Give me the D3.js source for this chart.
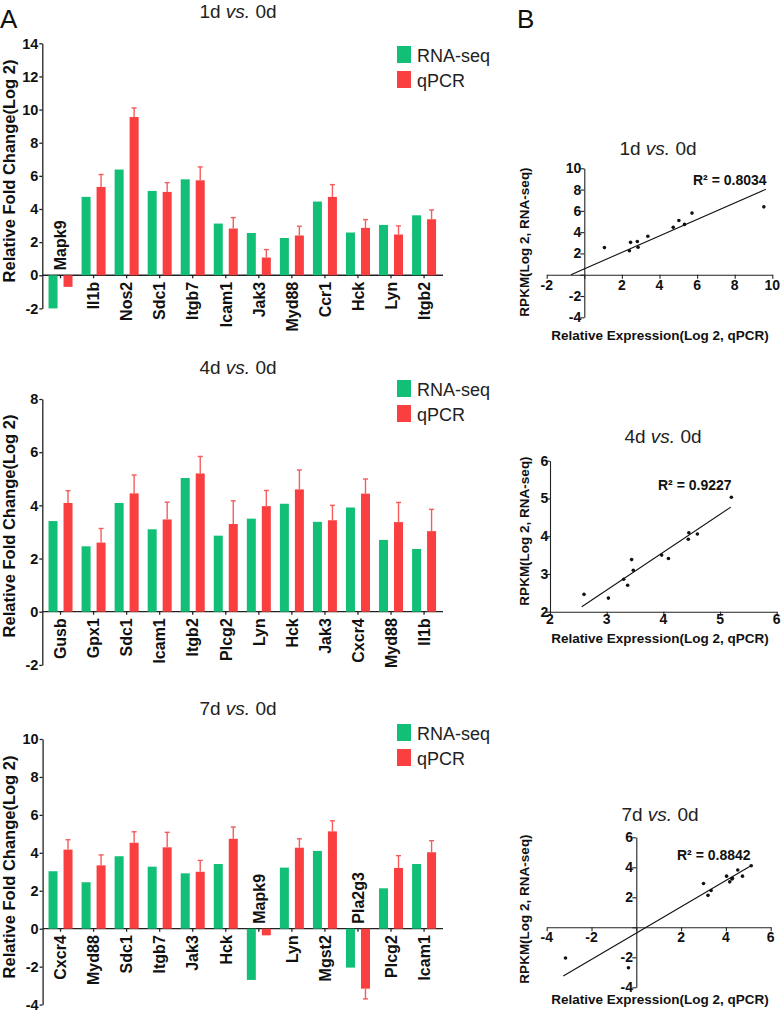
<!DOCTYPE html>
<html><head><meta charset="utf-8">
<script src="https://cdn.jsdelivr.net/npm/d3@7"></script>
<style>
body{margin:0;background:#fff}
svg{display:block}
text{font-family:"Liberation Sans",Arial,Helvetica,sans-serif;fill:#111}
</style>
</head><body>
<svg id="c" width="782" height="1010"></svg>
<script>
// ---------------- DATA ----------------
const seriesNames = ["RNA-seq", "qPCR"];

const p1Title = "1d";
const p1Genes = ["Mapk9","Il1b","Nos2","Sdc1","Itgb7","Icam1","Jak3","Myd88","Ccr1","Hck","Lyn","Itgb2"];
const p1RNA   = [-2.00, 4.73, 6.38, 5.09, 5.79, 3.12, 2.55, 2.25, 4.45, 2.58, 3.04, 3.62];
const p1QPCR  = [-0.70, 5.33, 9.55, 5.03, 5.73, 2.82, 1.07, 2.40, 4.73, 2.86, 2.46, 3.38];
const p1SD    = [0.00, 0.75, 0.55, 0.56, 0.81, 0.66, 0.48, 0.56, 0.74, 0.50, 0.52, 0.56];
const p1YTicks = [-2, 0, 2, 4, 6, 8, 10, 12, 14];

const p2Title = "4d";
const p2Genes = ["Gusb","Gpx1","Sdc1","Icam1","Itgb2","Plcg2","Lyn","Hck","Jak3","Cxcr4","Myd88","Il1b"];
const p2RNA   = [3.41, 2.46, 4.09, 3.10, 5.03, 2.86, 3.50, 4.06, 3.38, 3.92, 2.70, 2.36];
const p2QPCR  = [4.09, 2.60, 4.45, 3.47, 5.20, 3.30, 3.97, 4.60, 3.44, 4.44, 3.37, 3.03];
const p2SD    = [0.46, 0.53, 0.69, 0.65, 0.64, 0.87, 0.59, 0.73, 0.56, 0.55, 0.74, 0.82];
const p2YTicks = [-2, 0, 2, 4, 6, 8];

const p3Title = "7d";
const p3Genes = ["Cxcr4","Myd88","Sdc1","Itgb7","Jak3","Hck","Mapk9","Lyn","Mgst2","Pla2g3","Plcg2","Icam1"];
const p3RNA   = [3.03, 2.45, 3.82, 3.27, 2.92, 3.41, -2.70, 3.22, 4.10, -2.05, 2.13, 3.41];
const p3QPCR  = [4.17, 3.34, 4.53, 4.29, 3.00, 4.74, -0.35, 4.27, 5.13, -3.16, 3.20, 4.03];
const p3SD    = [0.52, 0.55, 0.58, 0.79, 0.60, 0.62, 0.00, 0.47, 0.56, 0.54, 0.65, 0.61];
const p3YTicks = [-4, -2, 0, 2, 4, 6, 8, 10];

// scatter (x = qPCR, y = RNA-seq), genes left out of each scatter
const s1Exclude = ["Mapk9"];
const s2Exclude = [];
const s3Exclude = [];
const s1R2 = "0.8034", s2R2 = "0.9227", s3R2 = "0.8842";
// fitted lines: [slope, intercept, xStart, xEnd]
const s1Fit = [0.774, 0.55, -0.71, 9.66];
const s2Fit = [1.004, -0.44, 2.56, 5.19];
const s3Fit = [0.878, -0.39, -3.26, 5.10];
const s1XTicks = [-2, 0, 2, 4, 6, 8, 10], s1YTicks = [-4, -2, 0, 2, 4, 6, 8, 10];
const s2XTicks = [2, 3, 4, 5, 6],        s2YTicks = [2, 3, 4, 5, 6];
const s3XTicks = [-4, -2, 0, 2, 4, 6],   s3YTicks = [-4, -2, 0, 2, 4, 6];

// ---------------- STYLE ----------------
const GREEN = "#12bf77", RED = "#f93f3f", ERR = "#f75b5b", AX = "#222";
const svg = d3.select("#c");

function title(g, x, y, day, size) {
  const t = g.append("text").attr("x", x).attr("y", y).attr("text-anchor", "middle")
    .style("font-size", size + "px").style("fill", "#222");
  t.append("tspan").text(day + " ");
  t.append("tspan").style("font-style", "italic").text("vs.");
  t.append("tspan").text(" 0d");
}

// ---------------- BAR PANELS ----------------
function barPanel(genes, rna, qpcr, sd, yTicks, day, L) {
  const g = svg.append("g");
  const y = d3.scaleLinear().domain([yTicks[0], yTicks[yTicks.length - 1]]).range(L.yPx);
  const x = d3.scaleBand().domain(genes).range([44, 440.6]);
  const cx = d => x(d) + x.bandwidth() / 2;
  const y0 = y(0);

  // y axis (lines via d3 axis, labels as own text)
  const ya = g.append("g").attr("transform", `translate(${L.axisX},0)`)
    .call(d3.axisLeft(y).tickValues(yTicks).tickSize(3).tickSizeOuter(0).tickFormat(""));
  ya.select(".domain").attr("stroke", AX).attr("stroke-width", 1.3);
  ya.selectAll(".tick line").attr("stroke", AX).attr("stroke-width", 1.3);
  g.selectAll(".ytl").data(yTicks).enter().append("text")
    .attr("x", L.axisX - 4).attr("y", d => y(d)).attr("dy", "0.36em")
    .attr("text-anchor", "end")
    .style("font-size", "14.5px").style("font-weight", "bold")
    .text(d => String(d));

  // x axis
  const xa = g.append("g").attr("transform", `translate(0,${y0})`)
    .call(d3.axisBottom(x).tickSize(3).tickSizeOuter(0).tickFormat(""));
  xa.select(".domain").attr("d", `M${L.axisX},0H443`).attr("stroke", AX).attr("stroke-width", 1.3);
  xa.selectAll(".tick line").attr("stroke", AX).attr("stroke-width", 1.3);

  const data = genes.map((gname, i) => ({ g: gname, r: rna[i], q: qpcr[i], s: sd[i] }));

  // bars
  g.selectAll(".rb").data(data).enter().append("rect")
    .attr("x", d => cx(d.g) - 12).attr("width", 9)
    .attr("y", d => Math.min(y(d.r), y0)).attr("height", d => Math.abs(y(d.r) - y0))
    .attr("fill", GREEN);
  g.selectAll(".qb").data(data).enter().append("rect")
    .attr("x", d => cx(d.g) + 3).attr("width", 9)
    .attr("y", d => Math.min(y(d.q), y0)).attr("height", d => Math.abs(y(d.q) - y0))
    .attr("fill", RED);

  // error bars
  const eb = data.filter(d => d.s > 0);
  const tip = d => d.q >= 0 ? d.q + d.s : d.q - d.s;
  g.selectAll(".ev").data(eb).enter().append("line")
    .attr("x1", d => cx(d.g) + 7.5).attr("x2", d => cx(d.g) + 7.5)
    .attr("y1", d => y(d.q)).attr("y2", d => y(tip(d)))
    .attr("stroke", ERR).attr("stroke-width", 1.4);
  g.selectAll(".ec").data(eb).enter().append("line")
    .attr("x1", d => cx(d.g) + 5).attr("x2", d => cx(d.g) + 10)
    .attr("y1", d => y(tip(d))).attr("y2", d => y(tip(d)))
    .attr("stroke", ERR).attr("stroke-width", 1.4);

  // category labels
  g.selectAll(".lab").data(data).enter().append("text")
    .attr("transform", d => d.r < 0 ? `translate(${cx(d.g)},${y0 - 5}) rotate(-90)` : `translate(${cx(d.g)},${y0 + 6.5}) rotate(-90)`)
    .attr("text-anchor", d => d.r < 0 ? "start" : "end")
    .attr("dy", "0.36em")
    .style("font-size", "16px").style("font-weight", "bold")
    .text(d => d.g);

  // y label
  g.append("text").attr("transform", `translate(9,${L.yLabelY}) rotate(-90)`)
    .attr("text-anchor", "middle").attr("dy", "0.36em")
    .style("font-size", "16.5px").style("font-weight", "bold")
    .text("Relative Fold Change(Log 2)");

  title(g, 238, L.titleY, day, 19);

  // legend
  const lg = g.append("g");
  [GREEN, RED].forEach((c, i) => {
    lg.append("rect").attr("x", 397).attr("y", L.legY + i * 25).attr("width", 14).attr("height", 17).attr("fill", c);
    lg.append("text").attr("x", 417).attr("y", L.legY + 16 + i * 24.5)
      .style("font-size", "18px").style("fill", "#222").text(seriesNames[i]);
  });
}

barPanel(p1Genes, p1RNA, p1QPCR, p1SD, p1YTicks, p1Title,
  { yPx: [308.4, 43.3], axisX: 42.3, titleY: 18, legY: 46, yLabelY: 171 });
barPanel(p2Genes, p2RNA, p2QPCR, p2SD, p2YTicks, p2Title,
  { yPx: [664.9, 399], axisX: 42.3, titleY: 374, legY: 380, yLabelY: 526 });
barPanel(p3Genes, p3RNA, p3QPCR, p3SD, p3YTicks, p3Title,
  { yPx: [1004.6, 739], axisX: 42.6, titleY: 715, legY: 724, yLabelY: 867 });

// ---------------- SCATTER PANELS ----------------
function scatterPanel(genes, rna, qpcr, exclude, xTicks, yTicks, fit, r2, day, L) {
  const g = svg.append("g");
  const x = d3.scaleLinear().domain([xTicks[0], xTicks[xTicks.length - 1]]).range(L.xPx);
  const y = d3.scaleLinear().domain([yTicks[0], yTicks[yTicks.length - 1]]).range(L.yPx);
  const cross = L.cross; // values where axes cross
  const ax0 = x(cross[0]), ay0 = y(cross[1]);

  const xa = g.append("g").attr("transform", `translate(0,${ay0})`)
    .call(d3.axisBottom(x).tickValues(xTicks).tickSize(4).tickSizeOuter(0).tickFormat(""));
  const ya = g.append("g").attr("transform", `translate(${ax0},0)`)
    .call(d3.axisLeft(y).tickValues(yTicks).tickSize(4).tickSizeOuter(0).tickFormat(""));
  [xa, ya].forEach(a => {
    a.select(".domain").attr("stroke", AX).attr("stroke-width", 1.1);
    a.selectAll(".tick line").attr("stroke", AX).attr("stroke-width", 1.1);
  });
  const xl = xTicks.filter(d => !(L.hideCross && d === cross[0]));
  const yl = yTicks.filter(d => !(L.hideCross && d === cross[1]));
  g.selectAll(".xtl").data(xl).enter().append("text")
    .attr("x", d => x(d)).attr("y", ay0 + L.xOff).attr("text-anchor", "middle")
    .style("font-size", "14px").style("font-weight", "bold").text(d => String(d));
  g.selectAll(".ytl").data(yl).enter().append("text")
    .attr("x", ax0 - L.yOff).attr("y", d => y(d)).attr("dy", "0.36em").attr("text-anchor", "end")
    .style("font-size", "14px").style("font-weight", "bold").text(d => String(d));

  const pts = genes.map((gn, i) => ({ g: gn, x: qpcr[i], y: rna[i] })).filter(d => !exclude.includes(d.g));
  g.selectAll(".pt").data(pts).enter().append("circle")
    .attr("cx", d => x(d.x)).attr("cy", d => y(d.y)).attr("r", 1.8).attr("fill", "#111");

  g.append("line")
    .attr("x1", x(fit[2])).attr("y1", y(fit[0] * fit[2] + fit[1]))
    .attr("x2", x(fit[3])).attr("y2", y(fit[0] * fit[3] + fit[1]))
    .attr("stroke", "#111").attr("stroke-width", 1.1);

  g.append("text").attr("x", L.r2[0]).attr("y", L.r2[1])
    .style("font-size", "14px").style("font-weight", "bold")
    .text("R² = " + r2);

  title(g, L.titleX, L.titleY, day, 19);

  g.append("text").attr("x", 660).attr("y", L.xLabY).attr("text-anchor", "middle")
    .style("font-size", "13.5px").style("font-weight", "bold")
    .text("Relative Expression(Log 2, qPCR)");
  g.append("text").attr("transform", `translate(524,${L.yLabY}) rotate(-90)`)
    .attr("text-anchor", "middle").attr("dy", "0.36em")
    .style("font-size", "13.5px").style("font-weight", "bold")
    .text("RPKM(Log 2, RNA-seq)");
}

scatterPanel(p1Genes, p1RNA, p1QPCR, s1Exclude, s1XTicks, s1YTicks, s1Fit, s1R2, p1Title,
  { xPx: [546.7, 772.3], yPx: [317.3, 168.3], cross: [0, 0], hideCross: true, xOff: 15.5, yOff: 3,
    r2: [693, 185], titleX: 658, titleY: 155, xLabY: 340, yLabY: 242 });
scatterPanel(p2Genes, p2RNA, p2QPCR, s2Exclude, s2XTicks, s2YTicks, s2Fit, s2R2, p2Title,
  { xPx: [550, 776.7], yPx: [611.7, 460.7], cross: [2, 2], hideCross: false, xOff: 12, yOff: 1.8,
    r2: [658, 490], titleX: 663, titleY: 443, xLabY: 643, yLabY: 531 });
scatterPanel(p3Genes, p3RNA, p3QPCR, s3Exclude, s3XTicks, s3YTicks, s3Fit, s3R2, p3Title,
  { xPx: [546.7, 770.7], yPx: [987.3, 837.3], cross: [0, 0], hideCross: true, xOff: 14.5, yOff: 3.3,
    r2: [677, 860], titleX: 660, titleY: 821, xLabY: 1004, yLabY: 909 });

// panel letters
svg.append("text").attr("x", 0).attr("y", 28).style("font-size", "26px").style("fill", "#111").text("A");
svg.append("text").attr("x", 517).attr("y", 28).style("font-size", "26px").style("fill", "#111").text("B");
</script>
</body></html>
